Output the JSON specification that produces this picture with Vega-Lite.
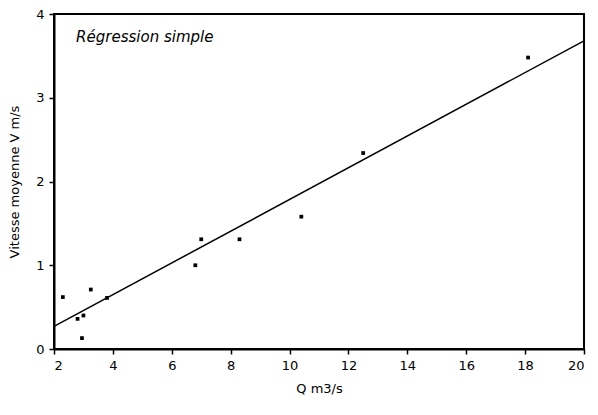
{
  "$schema": "https://vega.github.io/schema/vega-lite/v6.json",
  "width": 530,
  "height": 335,
  "autosize": "none",
  "padding": {"left": 54, "top": 14, "right": 14, "bottom": 66},
  "background": "white",
  "config": {
    "font": "DejaVu Sans",
    "view": {"stroke": "black", "strokeWidth": 2},
    "axis": {
      "grid": false,
      "domainColor": "black",
      "domainWidth": 2,
      "tickColor": "black",
      "tickWidth": 1.5,
      "tickSize": 5,
      "labelColor": "black",
      "labelFontSize": 13,
      "labelPadding": 5,
      "titleColor": "black",
      "titleFontSize": 13,
      "titleFontWeight": "normal"
    }
  },
  "datasets": {
    "points": [
      {"q": 2.3, "v": 0.62},
      {"q": 2.8, "v": 0.36},
      {"q": 2.95, "v": 0.13},
      {"q": 3.0, "v": 0.40},
      {"q": 3.25, "v": 0.71},
      {"q": 3.8, "v": 0.61},
      {"q": 6.8, "v": 1.0},
      {"q": 7.0, "v": 1.31},
      {"q": 8.3, "v": 1.31},
      {"q": 10.4, "v": 1.58},
      {"q": 12.5, "v": 2.34},
      {"q": 18.1, "v": 3.48}
    ],
    "fit": [
      {"q": 2, "v": 0.27},
      {"q": 20, "v": 3.68}
    ],
    "label": [
      {"q": 2.75, "v": 3.72, "text": "Régression simple"}
    ]
  },
  "layer": [
    {
      "data": {"name": "fit"},
      "mark": {"type": "line", "color": "black", "strokeWidth": 1.5},
      "encoding": {
        "x": {
          "field": "q", "type": "quantitative",
          "scale": {"domain": [2, 20], "nice": false, "zero": false},
          "axis": {"values": [2, 4, 6, 8, 10, 12, 14, 16, 18, 20], "format": "d", "title": "Q m3/s", "titlePadding": 10}
        },
        "y": {
          "field": "v", "type": "quantitative",
          "scale": {"domain": [0, 4], "nice": false},
          "axis": {"values": [0, 1, 2, 3, 4], "format": "d", "title": "Vitesse moyenne V m/s", "titlePadding": 14}
        }
      }
    },
    {
      "data": {"name": "points"},
      "mark": {"type": "point", "shape": "square", "filled": true, "color": "black", "size": 14, "opacity": 1},
      "encoding": {
        "x": {"field": "q", "type": "quantitative"},
        "y": {"field": "v", "type": "quantitative"}
      }
    },
    {
      "data": {"name": "label"},
      "mark": {"type": "text", "align": "left", "baseline": "middle", "fontStyle": "italic", "fontSize": 15, "color": "black"},
      "encoding": {
        "x": {"field": "q", "type": "quantitative"},
        "y": {"field": "v", "type": "quantitative"},
        "text": {"field": "text"}
      }
    }
  ]
}
